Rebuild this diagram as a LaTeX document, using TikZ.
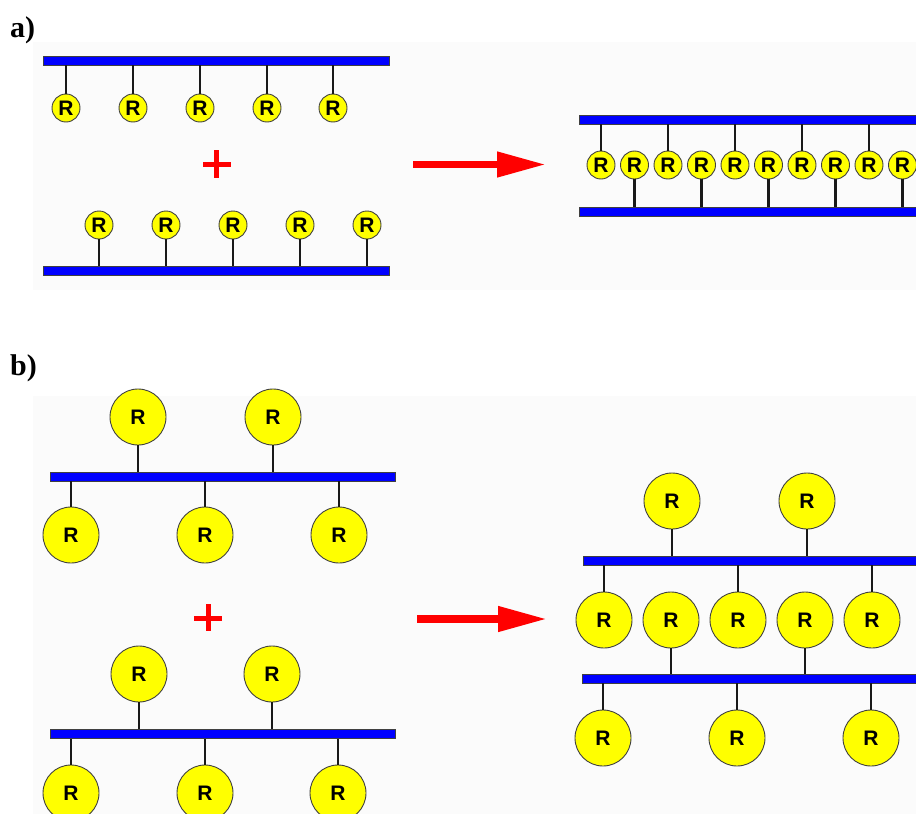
\documentclass[tikz,border=0pt]{standalone}
\usepackage{fontspec}
\setmainfont{Liberation Serif}
\newfontfamily\rfont{Liberation Sans}
\usetikzlibrary{arrows.meta}
\definecolor{bgray}{RGB}{251,251,251}
\definecolor{rblue}{RGB}{0,0,255}
\definecolor{ryellow}{RGB}{255,255,0}
\definecolor{rred}{RGB}{255,0,0}
\begin{document}
\begin{tikzpicture}[x=1pt,y=-1pt,
  bar/.style={rectangle,draw=black!75,fill=rblue,line width=0.8pt,inner sep=0pt,minimum height=9pt},
  rsmall/.style={circle,draw=black!75,fill=ryellow,line width=0.9pt,inner sep=0pt,minimum size=28pt,font=\rfont\bfseries\fontsize{21}{21}\selectfont},
  rbig/.style={circle,draw=black!75,fill=ryellow,line width=0.9pt,inner sep=0pt,minimum size=56pt,font=\rfont\bfseries\fontsize{21}{21}\selectfont},
  stem/.style={line width=2.2pt,black!90},
  bigarrow/.style={rred,line width=7.5pt,-{Triangle[length=49pt,width=24pt]}},
  plus/.style={rred,line width=5pt},
  lab/.style={font=\bfseries\fontsize{30}{30}\selectfont,inner sep=0pt,anchor=base west}
]
\useasboundingbox (0,0) rectangle (916,814);
\clip (0,0) rectangle (916,814);
\fill[bgray] (33,42) rectangle (916,290);
\fill[bgray] (33,396) rectangle (916,814);

% labels
\node[lab] (la) at (10,37) {a)};
\node[lab] (lb) at (10,375) {b)};

% ---------- part a, left ----------
\node[bar,minimum width=346pt] (a1bar) at (216,60.5) {};
\foreach \x [count=\i] in {66,133,200,267,333} {
  \node[rsmall] (ta\i) at (\x,108) {R};
  \draw[stem] (ta\i.north) -- (ta\i.north |- a1bar.south);
}
\draw[plus] (203,164.5) -- (231,164.5);
\draw[plus] (216.5,150) -- (216.5,178);
\node[bar,minimum width=346pt] (a2bar) at (216,270.5) {};
\foreach \x [count=\i] in {99,166,233,300,367} {
  \node[rsmall] (ba\i) at (\x,225) {R};
  \draw[stem] (ba\i.south) -- (ba\i.south |- a2bar.north);
}
% arrow a
\coordinate (aa1) at (413,164.5);
\coordinate (aa2) at (546,164.5);
\draw[bigarrow] (aa1) -- (aa2);

% ---------- part a, right ----------
\node[bar,minimum width=351pt] (a3bar) at (754.5,119.5) {};
\node[bar,minimum width=351pt] (a4bar) at (754.5,212) {};
\foreach \i in {0,2,4,6,8} {
  \node[rsmall] (ra\i) at ({601+33.5*\i},165) {R};
  \draw[stem] (ra\i.north) -- (ra\i.north |- a3bar.south);
}
\foreach \i in {1,3,5,7,9} {
  \node[rsmall] (ra\i) at ({601+33.5*\i},165) {R};
  \draw[stem] (ra\i.south) -- (ra\i.south |- a4bar.north);
}

% ---------- part b, left ----------
\node[bar,minimum width=345pt] (b1bar) at (222.5,476.5) {};
\foreach \x [count=\i] in {138,273} {
  \node[rbig] (tb\i) at (\x,417) {R};
  \draw[stem] (tb\i.south) -- (tb\i.south |- b1bar.north);
}
\foreach \x [count=\i] in {71,205,339} {
  \node[rbig] (bb\i) at (\x,535) {R};
  \draw[stem] (bb\i.north) -- (bb\i.north |- b1bar.south);
}
\draw[plus] (194,618.5) -- (222,618.5);
\draw[plus] (208,604) -- (208,631);
\node[bar,minimum width=345pt] (b2bar) at (222.5,734) {};
\foreach \x [count=\i] in {139,272} {
  \node[rbig] (tc\i) at (\x,674) {R};
  \draw[stem] (tc\i.south) -- (tc\i.south |- b2bar.north);
}
\foreach \x [count=\i] in {71,205,338} {
  \node[rbig] (bc\i) at (\x,793) {R};
  \draw[stem] (bc\i.north) -- (bc\i.north |- b2bar.south);
}
% arrow b
\coordinate (ba1) at (417,619);
\coordinate (ba2) at (547,619);
\draw[bigarrow] (ba1) -- (ba2);

% ---------- part b, right ----------
\node[bar,minimum width=348pt] (b3bar) at (757,560.5) {};
\node[bar,minimum width=348pt] (b4bar) at (756,678.5) {};
\foreach \x [count=\i] in {672,807} {
  \node[rbig] (tr\i) at (\x,501) {R};
  \draw[stem] (tr\i.south) -- (tr\i.south |- b3bar.north);
}
\foreach \x [count=\i] in {604,738,872} {
  \node[rbig] (mu\i) at (\x,620) {R};
  \draw[stem] (mu\i.north) -- (mu\i.north |- b3bar.south);
}
\foreach \x [count=\i] in {671,805} {
  \node[rbig] (md\i) at (\x,620) {R};
  \draw[stem] (md\i.south) -- (md\i.south |- b4bar.north);
}
\foreach \x [count=\i] in {603,737,871} {
  \node[rbig] (br\i) at (\x,738) {R};
  \draw[stem] (br\i.north) -- (br\i.north |- b4bar.south);
}
\end{tikzpicture}
\end{document}
